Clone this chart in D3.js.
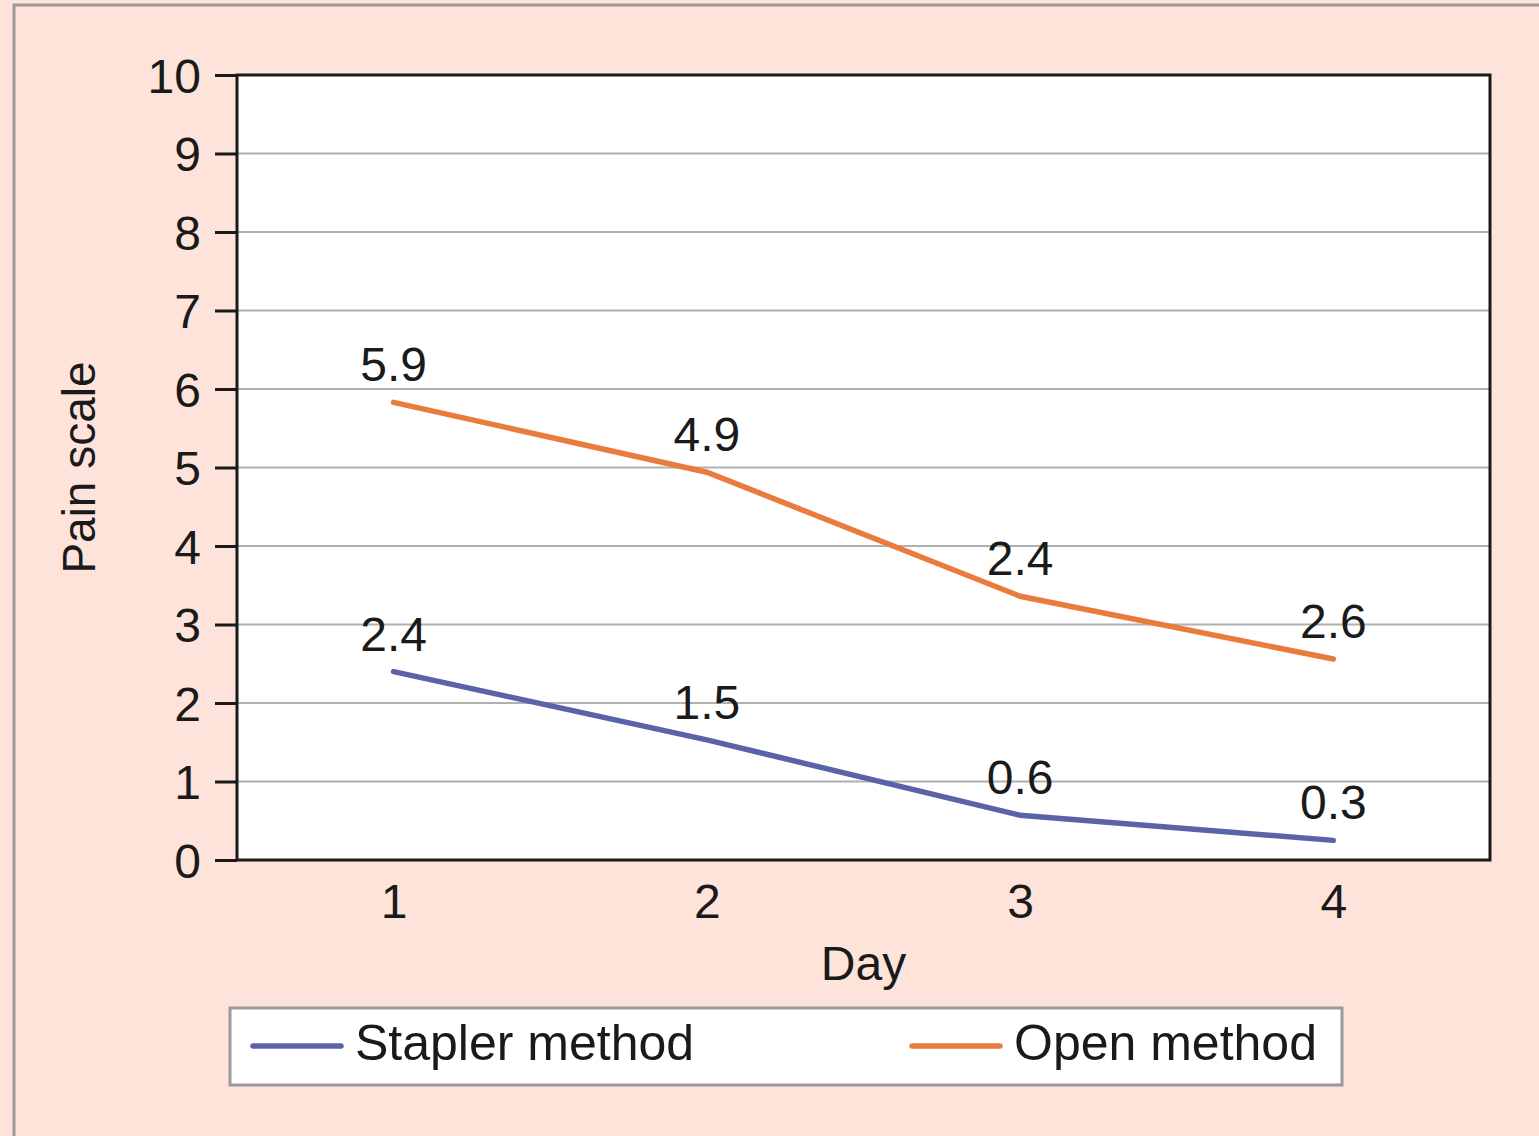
<!DOCTYPE html>
<html>
<head>
<meta charset="utf-8">
<script src="https://cdn.jsdelivr.net/npm/d3@7"></script>
<style>
  body { margin: 0; background: #fff; }
  svg { display: block; font-family: Arial, "Liberation Sans", sans-serif; }
</style>
</head>
<body>
<div id="chart"></div>
<script>
// data
var days = ["1", "2", "3", "4"];
var staplerValues = [2.4, 1.53, 0.57, 0.25];
var openValues = [5.83, 4.94, 3.36, 2.56];
// printed labels (the figure prints 2.4 above the third open point)
var staplerLabels = ["2.4", "1.5", "0.6", "0.3"];
var openLabels = ["5.9", "4.9", "2.4", "2.6"];
var yTicks = [0, 1, 2, 3, 4, 5, 6, 7, 8, 9, 10];
var seriesNames = ["Stapler method", "Open method"];

var W = 1539, H = 1136;
var margin = {top: 75, right: 49, bottom: 276, left: 237},
    width = W - margin.left - margin.right,
    height = H - margin.top - margin.bottom;

var svg = d3.select("#chart")
  .append("svg")
    .attr("width", W)
    .attr("height", H);

// page background + grey border
svg.append("rect")
  .attr("x", 0).attr("y", 0).attr("width", W).attr("height", H)
  .attr("fill", "#fde3d9");
svg.append("rect")
  .attr("x", 14).attr("y", 5).attr("width", W + 10).attr("height", H + 10)
  .attr("fill", "none").attr("stroke", "#9a9a9a").attr("stroke-width", 3);

var g = svg.append("g")
  .attr("transform", "translate(" + margin.left + "," + margin.top + ")");

var x = d3.scalePoint().domain(days).range([0, width]).padding(0.5);
var y = d3.scaleLinear().domain([0, 10]).range([height, 0]);

g.append("rect")
  .attr("width", width).attr("height", height)
  .attr("fill", "#fff");

// gridlines
g.selectAll(".grid")
  .data(yTicks.filter(function(d) { return d > 0 && d < 10; }))
  .enter().append("line")
    .attr("x1", 0).attr("x2", width)
    .attr("y1", function(d) { return y(d); })
    .attr("y2", function(d) { return y(d); })
    .attr("stroke", "#b0b0b0").attr("stroke-width", 2);

// frame
g.append("rect")
  .attr("width", width).attr("height", height)
  .attr("fill", "none").attr("stroke", "#1a1a1a").attr("stroke-width", 3);

// y axis
var yAxis = g.append("g")
  .call(d3.axisLeft(y).tickValues(yTicks).tickSize(22).tickPadding(14));
yAxis.select(".domain").remove();
yAxis.selectAll("line").attr("stroke", "#1a1a1a").attr("stroke-width", 3);
yAxis.selectAll("text")
  .attr("fill", "#1a1a1a")
  .style("font-size", "48px")
  .attr("dy", "0.36em");

// x axis
var xAxis = g.append("g")
  .attr("transform", "translate(0," + height + ")")
  .call(d3.axisBottom(x).tickSize(0).tickPadding(24));
xAxis.select(".domain").remove();
xAxis.selectAll("text")
  .attr("fill", "#1a1a1a")
  .style("font-size", "48px")
  .attr("dy", "0.71em");

// axis titles
g.append("text")
  .attr("transform", "rotate(-90)")
  .attr("x", 0 - (height / 2))
  .attr("y", -142)
  .style("text-anchor", "middle")
  .style("font-size", "46px")
  .attr("fill", "#1a1a1a")
  .text("Pain scale");

g.append("text")
  .attr("x", width / 2)
  .attr("y", height + 120)
  .style("text-anchor", "middle")
  .style("font-size", "48px")
  .attr("fill", "#1a1a1a")
  .text("Day");

var line = d3.line()
  .x(function(d, i) { return x(days[i]); })
  .y(function(d) { return y(d); });

var series = [
  {name: seriesNames[0], values: staplerValues, labels: staplerLabels, color: "#5b63a8"},
  {name: seriesNames[1], values: openValues, labels: openLabels, color: "#e97b3c"}
];

series.forEach(function(s) {
  g.append("path")
    .datum(s.values)
    .attr("fill", "none")
    .attr("stroke", s.color)
    .attr("stroke-width", 5.5)
    .attr("stroke-linecap", "round")
    .attr("d", line);

  g.selectAll(null)
    .data(s.values)
    .enter().append("text")
      .attr("x", function(d, i) { return x(days[i]); })
      .attr("y", function(d) { return y(d) - 21; })
      .style("text-anchor", "middle")
      .style("font-size", "48px")
      .attr("fill", "#1a1a1a")
      .text(function(d, i) { return s.labels[i]; });
});

// legend
var legend = svg.append("g");
legend.append("rect")
  .attr("x", 230).attr("y", 1008).attr("width", 1112).attr("height", 77)
  .attr("fill", "#fff").attr("stroke", "#9a9a9a").attr("stroke-width", 3);

var legendX = [253, 912];
series.forEach(function(s, i) {
  legend.append("line")
    .attr("x1", legendX[i]).attr("x2", legendX[i] + 88)
    .attr("y1", 1046).attr("y2", 1046)
    .attr("stroke", s.color).attr("stroke-width", 5.5)
    .attr("stroke-linecap", "round");
  legend.append("text")
    .attr("x", legendX[i] + 102)
    .attr("y", 1060)
    .style("font-size", "50px")
    .attr("fill", "#1a1a1a")
    .text(s.name);
});
</script>
</body>
</html>
